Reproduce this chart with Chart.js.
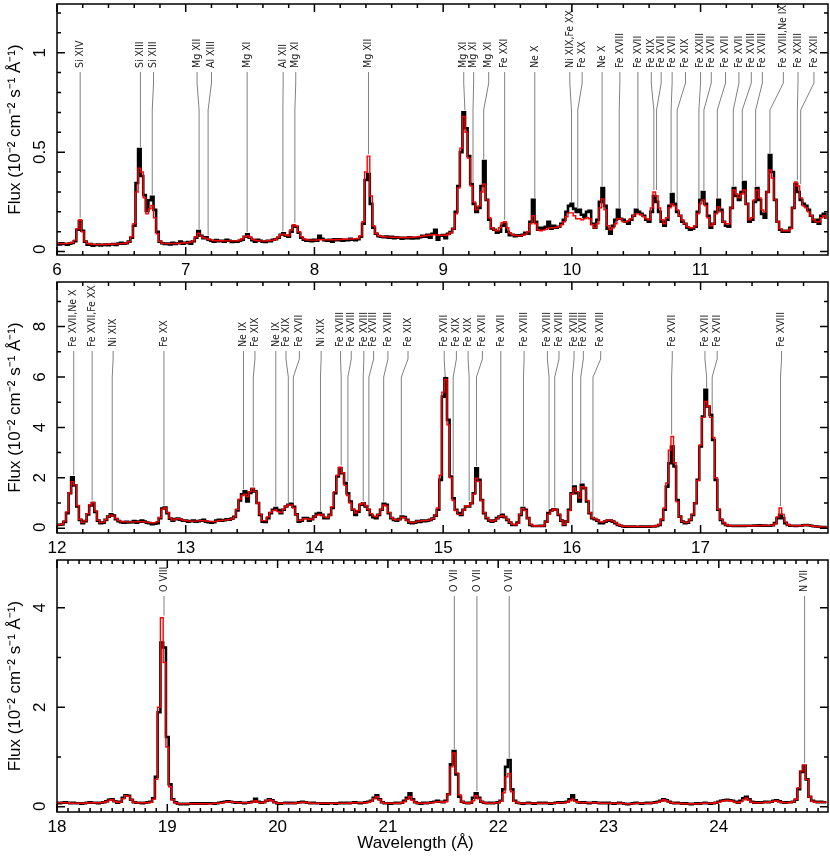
<!DOCTYPE html>
<html>
<head>
<meta charset="utf-8">
<script src="https://cdn.jsdelivr.net/npm/chart.js@4.4.0/dist/chart.umd.min.js"></script>
<style>
  body { margin: 0; background: #fff; }
  #wrap { position: relative; width: 830px; height: 860px; }
  canvas { position: absolute; left: 0; }
</style>
</head>
<body>
<div id="wrap">
  <canvas id="p1" width="830" height="280" style="top:0"></canvas>
  <canvas id="p2" width="830" height="280" style="top:278px"></canvas>
  <canvas id="p3" width="830" height="304" style="top:556px"></canvas>
</div>
<script>
// ---- panel 1: 6-12 A, bins of 0.02 A ----
const start1 = 6.0, bin1 = 0.02;
const flux1 = [
  0.040,0.036,0.042,0.038,0.035,0.040,0.043,0.052,0.110,0.152,
  0.105,0.050,0.035,0.038,0.030,0.033,0.036,0.031,0.034,0.035,
  0.032,0.036,0.038,0.034,0.040,0.044,0.040,0.042,0.050,0.070,
  0.130,0.345,0.516,0.380,0.285,0.205,0.258,0.276,0.210,0.100,
  0.050,0.042,0.038,0.040,0.036,0.044,0.038,0.042,0.050,0.040,
  0.044,0.048,0.040,0.052,0.070,0.104,0.080,0.068,0.072,0.060,
  0.055,0.050,0.058,0.052,0.055,0.050,0.060,0.055,0.048,0.052,
  0.050,0.055,0.060,0.075,0.087,0.070,0.058,0.050,0.060,0.055,
  0.050,0.048,0.055,0.052,0.060,0.062,0.070,0.085,0.092,0.080,
  0.075,0.100,0.128,0.125,0.095,0.070,0.060,0.055,0.058,0.052,
  0.060,0.055,0.080,0.065,0.058,0.055,0.060,0.050,0.062,0.058,
  0.062,0.055,0.060,0.058,0.065,0.060,0.058,0.062,0.075,0.140,
  0.360,0.390,0.240,0.120,0.090,0.078,0.075,0.072,0.076,0.070,
  0.075,0.068,0.072,0.070,0.065,0.070,0.068,0.072,0.066,0.070,
  0.068,0.072,0.080,0.075,0.085,0.070,0.090,0.110,0.060,0.080,
  0.083,0.067,0.090,0.098,0.115,0.200,0.330,0.500,0.700,0.620,
  0.480,0.340,0.240,0.200,0.220,0.330,0.455,0.260,0.160,0.117,
  0.110,0.095,0.100,0.130,0.140,0.100,0.082,0.085,0.078,0.082,
  0.080,0.085,0.095,0.090,0.150,0.260,0.150,0.110,0.120,0.115,
  0.125,0.150,0.115,0.130,0.120,0.125,0.140,0.160,0.200,0.230,
  0.240,0.215,0.200,0.210,0.185,0.175,0.200,0.205,0.140,0.120,
  0.160,0.250,0.320,0.230,0.115,0.090,0.130,0.160,0.210,0.165,
  0.160,0.150,0.140,0.160,0.180,0.210,0.200,0.190,0.180,0.160,
  0.150,0.200,0.280,0.250,0.200,0.150,0.130,0.160,0.230,0.290,
  0.240,0.200,0.180,0.150,0.140,0.120,0.110,0.115,0.125,0.200,
  0.260,0.300,0.240,0.180,0.120,0.140,0.200,0.260,0.210,0.150,
  0.130,0.125,0.220,0.320,0.280,0.260,0.300,0.350,0.240,0.150,
  0.160,0.250,0.320,0.260,0.190,0.170,0.300,0.485,0.400,0.260,
  0.150,0.110,0.100,0.105,0.100,0.120,0.220,0.340,0.300,0.260,
  0.240,0.230,0.210,0.180,0.150,0.160,0.140,0.180,0.190,0.170
];
const model1 = [
  0.042,0.040,0.040,0.041,0.041,0.042,0.046,0.058,0.115,0.160,
  0.100,0.052,0.040,0.038,0.037,0.036,0.036,0.036,0.036,0.036,
  0.037,0.037,0.038,0.038,0.039,0.040,0.041,0.043,0.050,0.075,
  0.140,0.300,0.420,0.400,0.270,0.190,0.215,0.232,0.170,0.090,
  0.052,0.042,0.040,0.040,0.040,0.040,0.041,0.042,0.042,0.043,
  0.044,0.045,0.048,0.055,0.075,0.092,0.078,0.070,0.068,0.062,
  0.058,0.056,0.055,0.055,0.055,0.054,0.054,0.054,0.054,0.054,
  0.055,0.058,0.065,0.075,0.080,0.072,0.062,0.057,0.055,0.054,
  0.054,0.054,0.055,0.056,0.058,0.062,0.072,0.085,0.088,0.082,
  0.080,0.110,0.135,0.128,0.100,0.075,0.064,0.060,0.058,0.058,
  0.058,0.058,0.060,0.060,0.059,0.059,0.060,0.060,0.060,0.061,
  0.061,0.062,0.062,0.063,0.063,0.064,0.065,0.066,0.080,0.150,
  0.400,0.480,0.280,0.130,0.092,0.080,0.077,0.075,0.074,0.073,
  0.073,0.072,0.072,0.071,0.071,0.071,0.071,0.072,0.072,0.073,
  0.074,0.076,0.078,0.080,0.082,0.083,0.085,0.085,0.083,0.082,
  0.082,0.082,0.086,0.095,0.115,0.190,0.320,0.520,0.680,0.600,
  0.470,0.330,0.250,0.210,0.230,0.300,0.340,0.260,0.170,0.120,
  0.110,0.105,0.120,0.145,0.150,0.120,0.095,0.085,0.082,0.080,
  0.080,0.082,0.088,0.100,0.140,0.180,0.140,0.110,0.105,0.108,
  0.112,0.118,0.120,0.120,0.122,0.125,0.135,0.150,0.175,0.195,
  0.195,0.180,0.165,0.165,0.160,0.165,0.170,0.165,0.135,0.120,
  0.140,0.220,0.265,0.210,0.130,0.110,0.120,0.140,0.165,0.165,
  0.150,0.150,0.155,0.165,0.180,0.190,0.190,0.185,0.175,0.165,
  0.160,0.220,0.300,0.280,0.220,0.160,0.140,0.170,0.220,0.240,
  0.230,0.210,0.180,0.160,0.140,0.125,0.120,0.120,0.130,0.190,
  0.240,0.260,0.230,0.170,0.130,0.140,0.190,0.225,0.200,0.150,
  0.140,0.140,0.220,0.310,0.290,0.270,0.290,0.310,0.240,0.160,
  0.170,0.260,0.310,0.270,0.210,0.200,0.300,0.410,0.370,0.260,
  0.150,0.115,0.105,0.105,0.105,0.115,0.220,0.350,0.330,0.270,
  0.230,0.220,0.200,0.180,0.160,0.150,0.150,0.170,0.180,0.170
];
const yTicks1 = [0, 0.5, 1];
const ions1 = ['Si XIV','Si XIII','Si XIII','Mg XII','Al XIII','Mg XI','Al XII','Mg XI','Mg XII',
  'Mg XI','Mg XI','Mg XI','Fe XXI','Ne X','Ni XIX,Fe XX','Fe XX','Ne X','Fe XVIII','Fe XVII',
  'Fe XIX','Fe XVII','Fe XVII','Fe XIX','Fe XXIII','Fe XVII','Fe XVII','Fe XVII','Fe XVIII',
  'Fe XVIII','Fe XVIII,Ne IX','Fe XXIII','Fe XXII'];
const lineWave1 = [6.18,6.648,6.74,7.104,7.174,7.477,7.755,7.848,8.42,
  9.169,9.232,9.315,9.478,9.712,9.997,10.046,10.235,10.368,10.513,
  10.637,10.658,10.771,10.818,10.987,11.026,11.13,11.254,11.324,
  11.428,11.539,11.752,11.778];
const labelWave1 = [6.18,6.648,6.75,7.088,7.20,7.477,7.757,7.855,8.42,
  9.16,9.237,9.354,9.478,9.712,9.984,10.08,10.235,10.373,10.513,
  10.617,10.694,10.779,10.883,11.0,11.083,11.194,11.298,11.394,
  11.48,11.643,11.757,11.881];

// ---- panel 2: 12-18 A, bins of 0.02 A ----
const start2 = 12.0, bin2 = 0.02;
const flux2 = [
  0.13,0.14,0.15,0.25,0.60,1.39,2.02,1.70,0.86,0.33,
  0.20,0.28,0.55,0.90,1.00,0.65,0.30,0.20,0.22,0.33,
  0.46,0.55,0.50,0.36,0.28,0.24,0.22,0.25,0.23,0.24,
  0.28,0.22,0.26,0.30,0.26,0.22,0.20,0.16,0.18,0.20,
  0.40,0.78,0.82,0.60,0.38,0.30,0.36,0.38,0.34,0.30,
  0.30,0.26,0.28,0.30,0.26,0.28,0.30,0.33,0.26,0.24,
  0.22,0.24,0.30,0.33,0.30,0.32,0.35,0.34,0.38,0.45,
  0.70,1.10,1.35,1.46,1.06,1.40,1.55,1.46,1.00,0.53,
  0.26,0.25,0.40,0.60,0.73,0.80,0.72,0.60,0.73,0.86,
  0.93,0.97,0.85,0.55,0.26,0.30,0.40,0.40,0.30,0.36,
  0.46,0.57,0.60,0.53,0.40,0.40,0.53,0.80,1.39,2.05,
  2.38,2.18,1.79,1.39,1.06,0.73,0.53,0.66,0.93,0.99,
  0.86,0.73,0.53,0.44,0.40,0.53,0.73,0.97,0.93,0.60,
  0.40,0.33,0.30,0.36,0.46,0.44,0.33,0.22,0.20,0.22,
  0.28,0.25,0.30,0.28,0.30,0.33,0.38,0.50,0.73,1.92,
  5.22,5.95,4.30,2.05,1.19,0.73,0.60,0.53,0.73,0.86,
  0.86,0.99,1.39,2.38,1.92,1.12,0.60,0.40,0.30,0.26,
  0.30,0.40,0.46,0.53,0.44,0.33,0.22,0.13,0.13,0.22,
  0.53,0.80,0.73,0.40,0.13,0.09,0.09,0.09,0.10,0.09,
  0.26,0.60,0.70,0.75,0.73,0.53,0.30,0.13,0.26,0.73,
  1.39,1.65,1.39,1.06,1.72,1.59,1.06,0.60,0.40,0.36,
  0.30,0.20,0.20,0.26,0.30,0.30,0.26,0.20,0.13,0.10,
  0.07,0.06,0.07,0.06,0.07,0.06,0.06,0.07,0.06,0.07,
  0.06,0.07,0.07,0.09,0.13,0.33,0.73,1.65,2.58,3.24,
  2.45,1.12,0.46,0.26,0.20,0.22,0.33,0.53,0.99,1.92,
  3.24,4.43,5.49,4.83,4.50,3.50,1.92,0.73,0.33,0.20,
  0.13,0.10,0.10,0.09,0.10,0.09,0.10,0.09,0.10,0.10,
  0.10,0.11,0.10,0.12,0.10,0.11,0.10,0.10,0.12,0.20,
  0.40,0.53,0.40,0.20,0.13,0.10,0.10,0.09,0.10,0.10,
  0.12,0.13,0.12,0.10,0.08,0.07,0.06,0.05,0.05,0.04
];
const model2 = [
  0.14,0.14,0.16,0.28,0.65,1.40,1.85,1.72,0.90,0.35,
  0.22,0.30,0.58,0.92,1.02,0.68,0.32,0.22,0.24,0.34,
  0.46,0.52,0.48,0.38,0.30,0.26,0.25,0.25,0.25,0.25,
  0.25,0.25,0.26,0.26,0.25,0.24,0.22,0.21,0.22,0.26,
  0.42,0.75,0.80,0.62,0.40,0.32,0.36,0.38,0.36,0.32,
  0.30,0.29,0.28,0.28,0.28,0.29,0.30,0.30,0.28,0.27,
  0.26,0.26,0.28,0.30,0.31,0.32,0.33,0.34,0.37,0.45,
  0.75,1.15,1.30,1.35,1.25,1.45,1.58,1.45,1.00,0.55,
  0.30,0.30,0.45,0.62,0.70,0.72,0.66,0.62,0.75,0.86,
  0.92,0.92,0.80,0.55,0.30,0.32,0.38,0.38,0.34,0.36,
  0.45,0.52,0.55,0.52,0.45,0.42,0.52,0.85,1.45,2.10,
  2.42,2.20,1.70,1.30,1.00,0.75,0.60,0.70,0.95,1.00,
  0.90,0.75,0.58,0.48,0.45,0.55,0.75,0.92,0.88,0.62,
  0.42,0.35,0.32,0.36,0.44,0.42,0.32,0.24,0.22,0.23,
  0.28,0.28,0.30,0.30,0.31,0.33,0.38,0.52,0.80,2.10,
  5.40,5.90,4.10,2.00,1.10,0.70,0.55,0.55,0.72,0.88,
  0.88,1.00,1.35,1.98,1.85,1.10,0.62,0.42,0.32,0.27,
  0.30,0.38,0.46,0.50,0.45,0.34,0.24,0.16,0.14,0.20,
  0.55,0.78,0.70,0.40,0.16,0.10,0.09,0.09,0.09,0.10,
  0.25,0.55,0.68,0.75,0.72,0.55,0.30,0.15,0.25,0.70,
  1.35,1.60,1.45,1.20,1.65,1.60,1.10,0.62,0.42,0.38,
  0.32,0.25,0.24,0.28,0.32,0.32,0.28,0.22,0.15,0.11,
  0.08,0.08,0.07,0.07,0.07,0.07,0.07,0.07,0.07,0.07,
  0.07,0.07,0.08,0.10,0.15,0.36,0.80,1.80,3.10,3.64,
  2.60,1.05,0.45,0.27,0.22,0.23,0.34,0.55,1.00,1.90,
  3.30,4.40,5.03,4.85,4.40,3.60,2.00,0.75,0.35,0.22,
  0.14,0.11,0.10,0.10,0.10,0.10,0.10,0.10,0.10,0.10,
  0.10,0.10,0.10,0.11,0.11,0.11,0.11,0.11,0.12,0.18,
  0.45,0.80,0.55,0.25,0.14,0.11,0.10,0.10,0.10,0.10,
  0.12,0.13,0.12,0.10,0.08,0.07,0.06,0.05,0.05,0.05
];
const yTicks2 = [0, 2, 4, 6, 8];
const ions2 = ['Fe XVII,Ne X','Fe XVII,Fe XX','Ni XIX','Fe XX','Ne IX','Fe XIX','Ne IX','Fe XIX',
  'Fe XVII','Ni XIX','Fe XVIII','Fe XVIII','Fe XVIII','Fe XVIII','Fe XVIII','Fe XIX',
  'Fe XVII','Fe XIX','Fe XIX','Fe XVII','Fe XVII','Fe XVIII','Fe XVIII','Fe XVIII','Fe XVIII',
  'Fe XVIII','Fe XVIII','Fe XVII','Fe XVII','Fe XVII','Fe XVIII'];
const lineWave2 = [12.13,12.273,12.429,12.831,13.449,13.525,13.70,13.797,
  13.836,14.047,14.208,14.26,14.379,14.423,14.538,14.675,
  15.016,15.078,15.202,15.259,15.448,15.624,15.823,15.867,16.004,
  16.069,16.164,16.775,17.047,17.09,17.621];
const labelWave2 = [12.13,12.273,12.436,12.831,13.449,13.538,13.70,13.779,
  13.883,14.052,14.203,14.286,14.384,14.46,14.571,14.727,
  15.008,15.103,15.194,15.305,15.448,15.629,15.81,15.90,16.017,
  16.089,16.224,16.78,17.034,17.129,17.629];

// ---- panel 3: 18-25 A, bins of 0.025 A ----
const start3 = 18.0, bin3 = 0.025;
const flux3 = [
  0.08,0.07,0.08,0.09,0.08,0.07,0.08,0.07,
  0.07,0.06,0.07,0.08,0.09,0.08,0.08,0.07,
  0.08,0.09,0.11,0.14,0.15,0.11,0.08,0.10,
  0.18,0.23,0.22,0.14,0.09,0.08,0.08,0.07,
  0.08,0.09,0.10,0.17,0.60,1.90,3.30,3.20,
  1.40,0.45,0.15,0.09,0.06,0.05,0.06,0.05,
  0.06,0.07,0.06,0.07,0.06,0.07,0.06,0.07,
  0.07,0.06,0.07,0.08,0.09,0.10,0.11,0.10,
  0.09,0.08,0.09,0.08,0.07,0.08,0.09,0.10,
  0.16,0.10,0.08,0.09,0.12,0.15,0.13,0.09,
  0.07,0.06,0.07,0.08,0.07,0.08,0.07,0.08,
  0.09,0.10,0.09,0.08,0.07,0.08,0.07,0.07,
  0.06,0.07,0.06,0.07,0.07,0.06,0.07,0.08,
  0.07,0.08,0.07,0.08,0.09,0.08,0.07,0.08,
  0.09,0.10,0.12,0.18,0.23,0.15,0.09,0.07,
  0.07,0.06,0.07,0.08,0.07,0.08,0.12,0.18,
  0.27,0.15,0.09,0.07,0.06,0.08,0.07,0.08,
  0.09,0.10,0.12,0.10,0.09,0.12,0.25,0.85,
  1.12,0.65,0.20,0.10,0.08,0.07,0.08,0.18,
  0.27,0.18,0.10,0.08,0.07,0.08,0.07,0.08,
  0.09,0.12,0.35,0.80,0.94,0.35,0.12,0.08,
  0.07,0.06,0.07,0.08,0.07,0.06,0.07,0.08,
  0.07,0.08,0.07,0.06,0.07,0.08,0.09,0.08,
  0.09,0.10,0.15,0.23,0.13,0.09,0.08,0.09,
  0.08,0.07,0.08,0.09,0.08,0.07,0.08,0.07,
  0.08,0.07,0.06,0.07,0.08,0.07,0.06,0.05,
  0.06,0.07,0.08,0.07,0.06,0.07,0.08,0.07,
  0.08,0.09,0.10,0.12,0.15,0.13,0.10,0.08,
  0.07,0.08,0.07,0.06,0.07,0.06,0.05,0.06,
  0.07,0.06,0.07,0.08,0.07,0.06,0.07,0.08,
  0.10,0.12,0.13,0.14,0.13,0.12,0.10,0.08,
  0.12,0.17,0.20,0.15,0.10,0.08,0.09,0.08,
  0.09,0.10,0.09,0.10,0.12,0.13,0.11,0.09,
  0.08,0.09,0.09,0.10,0.14,0.35,0.70,0.82,
  0.55,0.20,0.12,0.10,0.09,0.10,0.09,0.09
];
const model3 = [
  0.08,0.08,0.08,0.08,0.08,0.07,0.07,0.07,
  0.07,0.07,0.07,0.08,0.08,0.08,0.08,0.08,
  0.08,0.09,0.10,0.13,0.14,0.11,0.09,0.09,
  0.16,0.22,0.21,0.14,0.09,0.08,0.08,0.08,
  0.08,0.08,0.09,0.15,0.55,2.00,3.80,2.90,
  1.20,0.40,0.14,0.08,0.06,0.06,0.06,0.06,
  0.06,0.06,0.06,0.06,0.06,0.06,0.06,0.06,
  0.06,0.07,0.07,0.07,0.08,0.09,0.10,0.10,
  0.09,0.09,0.08,0.08,0.08,0.08,0.08,0.09,
  0.12,0.09,0.08,0.09,0.12,0.14,0.12,0.09,
  0.07,0.07,0.07,0.07,0.07,0.07,0.07,0.08,
  0.08,0.09,0.09,0.08,0.07,0.07,0.07,0.07,
  0.07,0.07,0.07,0.07,0.07,0.07,0.07,0.07,
  0.07,0.07,0.07,0.08,0.08,0.08,0.08,0.08,
  0.08,0.09,0.11,0.16,0.20,0.14,0.09,0.07,
  0.07,0.07,0.07,0.07,0.07,0.08,0.10,0.15,
  0.20,0.13,0.09,0.07,0.07,0.07,0.07,0.08,
  0.08,0.09,0.10,0.10,0.09,0.10,0.25,0.80,
  1.08,0.68,0.24,0.10,0.08,0.07,0.08,0.12,
  0.22,0.16,0.10,0.08,0.07,0.07,0.07,0.08,
  0.08,0.11,0.28,0.60,0.67,0.30,0.11,0.08,
  0.07,0.07,0.07,0.07,0.07,0.07,0.07,0.07,
  0.07,0.07,0.07,0.07,0.07,0.07,0.08,0.08,
  0.08,0.09,0.12,0.15,0.11,0.09,0.08,0.08,
  0.08,0.08,0.08,0.08,0.08,0.07,0.07,0.07,
  0.07,0.07,0.07,0.07,0.07,0.07,0.06,0.06,
  0.06,0.06,0.07,0.07,0.07,0.07,0.07,0.07,
  0.08,0.08,0.09,0.11,0.14,0.12,0.09,0.08,
  0.07,0.07,0.07,0.06,0.06,0.06,0.06,0.06,
  0.06,0.06,0.07,0.07,0.07,0.07,0.07,0.08,
  0.09,0.11,0.12,0.13,0.12,0.11,0.09,0.08,
  0.10,0.14,0.17,0.13,0.09,0.08,0.08,0.08,
  0.08,0.09,0.09,0.10,0.11,0.12,0.10,0.09,
  0.08,0.08,0.09,0.10,0.15,0.38,0.72,0.84,
  0.55,0.20,0.11,0.09,0.09,0.09,0.09,0.09
];
const yTicks3 = [0, 2, 4];
const ions3 = ['O VIII', 'O VII', 'O VII', 'O VII', 'N VII'];
const lineWave3 = [18.97, 21.602, 21.807, 22.10, 24.778];
const labelWave3 = [18.97, 21.602, 21.807, 22.10, 24.778];

const yTitle = 'Flux (10\u207B\u00B2 cm\u207B\u00B2 s\u207B\u00B9 \u00C5\u207B\u00B9)';
const xTitle = 'Wavelength (\u00C5)';
const sans = '"Liberation Sans", Arial, sans-serif';
const narrow = '"Liberation Sans Narrow", "DejaVu Sans Condensed", sans-serif';

// ion labels with their leader lines, drawn under the spectra
const lineIds = {
  id: 'lineIds',
  beforeDatasetsDraw(chart, args, o) {
    const { ctx, chartArea: a, scales: { x, y } } = chart;
    const red = chart.data.datasets[0].data, black = chart.data.datasets[1].data;
    const base = a.top + o.textOffset;
    ctx.save();
    ctx.font = '10.5px ' + narrow;
    ctx.fillStyle = '#222';
    ctx.strokeStyle = '#808080';
    ctx.lineWidth = 1;
    o.ions.forEach((txt, k) => {
      const lx = x.getPixelForValue(o.labelAt[k]);
      const wx = x.getPixelForValue(o.waves[k]);
      const f = (o.waves[k] - o.start) / o.bin;
      let top = 0;
      [Math.floor(f), Math.ceil(f)].forEach(i => {
        if (black[i]) top = Math.max(top, black[i].y, red[i].y);
      });
      const py = y.getPixelForValue(top) - 2;
      ctx.beginPath();
      ctx.moveTo(lx, base + 4);
      ctx.lineTo(lx, base + o.bend[0]);
      ctx.lineTo(wx, base + o.bend[1]);
      ctx.lineTo(wx, py);
      ctx.stroke();
      ctx.save();
      ctx.translate(lx, base);
      ctx.rotate(-Math.PI / 2);
      ctx.textAlign = 'left';
      ctx.textBaseline = 'middle';
      ctx.fillText(txt, 0, 0);
      ctx.restore();
    });
    ctx.restore();
  }
};

// box, inward ticks on all four sides, vertical y tick labels, x title
const frame = {
  id: 'frame',
  afterDraw(chart, args, o) {
    const { ctx, chartArea: a, scales: { x, y } } = chart;
    ctx.save();
    ctx.strokeStyle = '#000';
    ctx.lineWidth = 1.5;
    ctx.strokeRect(a.left, a.top, a.width, a.height);
    ctx.beginPath();
    for (let k = Math.ceil(x.min / o.xMinor - 1e-6); k * o.xMinor <= x.max + 1e-9; k++) {
      const v = k * o.xMinor, px = x.getPixelForValue(v);
      const len = Math.abs(v - Math.round(v)) < 1e-6 ? 8 : 4;
      ctx.moveTo(px, a.bottom); ctx.lineTo(px, a.bottom - len);
      ctx.moveTo(px, a.top); ctx.lineTo(px, a.top + len);
    }
    for (let k = Math.ceil(y.min / o.yMinor - 1e-6); k * o.yMinor <= y.max + 1e-9; k++) {
      const v = k * o.yMinor, py = y.getPixelForValue(v);
      const r = v / o.yMajor;
      const len = Math.abs(r - Math.round(r)) < 1e-6 ? 8 : 4;
      ctx.moveTo(a.left, py); ctx.lineTo(a.left + len, py);
      ctx.moveTo(a.right, py); ctx.lineTo(a.right - len, py);
    }
    ctx.stroke();
    ctx.font = '17px ' + sans;
    ctx.fillStyle = '#000';
    ctx.textAlign = 'center';
    ctx.textBaseline = 'middle';
    o.yLabels.forEach(v => {
      const s = String(v);
      const w = ctx.measureText(s).width;
      const py = Math.min(y.getPixelForValue(v), a.bottom - w / 2 - 1);
      ctx.save();
      ctx.translate(a.left - 17, py);
      ctx.rotate(-Math.PI / 2);
      ctx.fillText(s, 0, 0);
      ctx.restore();
    });
    if (o.xTitle) {
      ctx.fillText(o.xTitle, a.left + a.width * 0.465, a.bottom + 31);
    }
    ctx.restore();
  }
};

function makePanel(id, p) {
  const pts = vals => vals.map((v, i) => ({ x: p.start + i * p.bin, y: v }));
  new Chart(document.getElementById(id), {
    type: 'line',
    data: {
      datasets: [
        { label: 'Model', data: pts(p.model), borderColor: '#ff0000', borderWidth: 1.4,
          stepped: 'middle', pointRadius: 0, fill: false, order: 0 },
        { label: 'Data', data: pts(p.flux), borderColor: '#000000', borderWidth: 2.6,
          stepped: 'middle', pointRadius: 0, fill: false, order: 1 }
      ]
    },
    options: {
      responsive: false,
      animation: false,
      devicePixelRatio: 1,
      layout: { padding: { top: 4, right: 2, left: 0, bottom: 0 } },
      plugins: {
        legend: { display: false },
        tooltip: { enabled: false },
        lineIds: { ions: p.ions, waves: p.waves, labelAt: p.labelAt, start: p.start, bin: p.bin,
                   textOffset: p.textOffset, bend: p.bend },
        frame: { xMinor: p.xMinor, yMinor: p.yMinor, yMajor: p.yMajor, yLabels: p.yLabels,
                 xTitle: p.xTitle }
      },
      scales: {
        x: {
          type: 'linear', min: p.xMin, max: p.xMax,
          afterFit: s => { s.height = p.xHeight; },
          grid: { display: false, drawTicks: false },
          border: { display: false },
          ticks: { stepSize: 1, includeBounds: false, maxRotation: 0, autoSkip: false, padding: 5,
                   color: '#000', font: { family: sans, size: 17 },
                   callback: v => Number.isInteger(v) ? String(v) : '' }
        },
        y: {
          min: p.yMin, max: p.yMax,
          afterFit: s => { s.width = 57; },
          grid: { display: false, drawTicks: false },
          border: { display: false },
          ticks: { display: false },
          title: { display: true, text: yTitle, color: '#000',
                   font: { family: sans, size: 17 }, padding: { top: 5, bottom: 0 } }
        }
      }
    },
    plugins: [lineIds, frame]
  });
}

makePanel('p1', { start: start1, bin: bin1, flux: flux1, model: model1,
  ions: ions1, waves: lineWave1, labelAt: labelWave1, textOffset: 64, bend: [15, 42],
  xMin: 6, xMax: 11.99, yMin: -0.017, yMax: 1.245, xMinor: 0.2, yMinor: 0.1, yMajor: 0.5,
  yLabels: yTicks1, xHeight: 25 });
makePanel('p2', { start: start2, bin: bin2, flux: flux2, model: model2,
  ions: ions2, waves: lineWave2, labelAt: labelWave2, textOffset: 65, bend: [12, 30],
  xMin: 12, xMax: 17.99, yMin: -0.19, yMax: 9.77, xMinor: 0.2, yMinor: 1, yMajor: 2,
  yLabels: yTicks2, xHeight: 25 });
makePanel('p3', { start: start3, bin: bin3, flux: flux3, model: model3,
  ions: ions3, waves: lineWave3, labelAt: labelWave3, textOffset: 32, bend: [6, 6],
  xMin: 18, xMax: 24.99, yMin: -0.107, yMax: 4.96, xMinor: 0.1, yMinor: 1, yMajor: 2,
  yLabels: yTicks3, xHeight: 48, xTitle: xTitle });
</script>
</body>
</html>
